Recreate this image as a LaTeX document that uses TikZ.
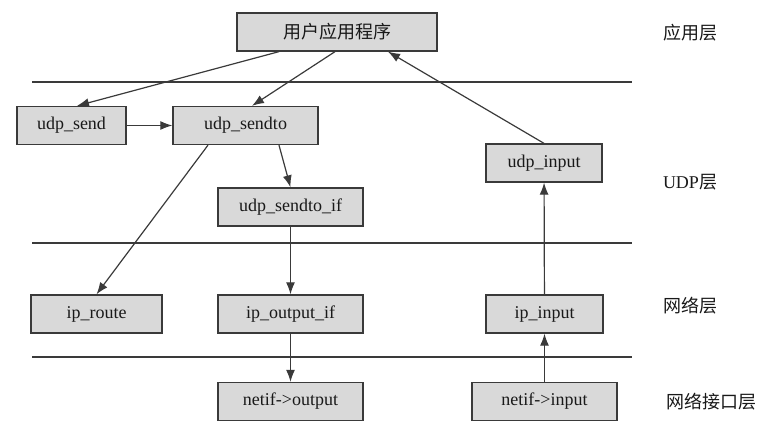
\documentclass[tikz,border=0pt]{standalone}
\usepackage{fontspec}
\setmainfont{Liberation Serif}
\newfontfamily\cjk{Noto Sans CJK SC}
\usetikzlibrary{arrows.meta}
\definecolor{boxfill}{HTML}{D9D9D9}
\definecolor{inkgray}{HTML}{3A3A3A}
\tikzset{
  BoxStyle/.style = {rectangle, draw=inkgray, fill=boxfill, line width=1.3pt,
                     minimum height=38pt, inner sep=0pt, text=black!90,
                     font = \fontsize{18}{20}\selectfont\rmfamily},
  LayerStyle/.style = {text=black!90, font = \fontsize{18}{20}\selectfont\cjk},
  LineStyle/.style = {inkgray, line width=1.1pt},
  ArrowStyle/.style = {inkgray, line width=1.2pt, -{Latex[length=12pt,width=9pt]}} }

\begin{document}
\begin{tikzpicture}[x=1pt,y=-1pt]
  \useasboundingbox (0,0) rectangle (763,428);
  % layer separators
  \draw[LineStyle] (32,82) -- (632,82);
  \draw[LineStyle] (32,243) -- (632,243);
  \draw[LineStyle] (32,357) -- (632,357);
  % boxes
  \node[BoxStyle, minimum width=200pt] (app) at (337,32) {\cjk 用户应用程序};
  \node[BoxStyle, minimum width=109pt] (send) at (71.5,125.5) {udp\_send};
  \node[BoxStyle, minimum width=145pt] (sendto) at (245.5,125.5) {udp\_sendto};
  \node[BoxStyle, minimum width=145pt] (sendtoif) at (290.5,207) {udp\_sendto\_if};
  \node[BoxStyle, minimum width=116pt] (udpin) at (544,163) {udp\_input};
  \node[BoxStyle, minimum width=131pt] (route) at (96.5,314) {ip\_route};
  \node[BoxStyle, minimum width=145pt] (ipout) at (290.5,314) {ip\_output\_if};
  \node[BoxStyle, minimum width=117pt] (ipin) at (544.5,314) {ip\_input};
  \node[BoxStyle, minimum width=145pt] (netout) at (290.5,401.5) {netif->output};
  \node[BoxStyle, minimum width=145pt] (netin) at (544.5,401.5) {netif->input};
  % layer names
  \node[LayerStyle] (lapp) at (690,33) {应用层};
  \node[LayerStyle] (ludp) at (690,182) {{\rmfamily UDP}层};
  \node[LayerStyle] (lip) at (690,306) {网络层};
  \node[LayerStyle] (lnet) at (711,402) {网络接口层};
  % calls
  \draw[ArrowStyle] ([xshift=-58pt]app.south) -- ([xshift=5.5pt]send.north);
  \draw[ArrowStyle] ([xshift=-2pt]app.south) -- ([xshift=6.5pt]sendto.north);
  \draw[ArrowStyle] (udpin.north) -- ([xshift=51pt]app.south);
  \draw[ArrowStyle] (send) -- (sendto);
  \draw[ArrowStyle] ([xshift=-37.5pt]sendto.south) -- (route.north);
  \draw[ArrowStyle] ([xshift=33.5pt]sendto.south) -- (sendtoif.north);
  \draw[ArrowStyle] (sendtoif) -- (ipout);
  \draw[ArrowStyle] (ipout) -- (netout);
  \draw[ArrowStyle] (ipin) -- (udpin);
  \draw[ArrowStyle] (netin) -- (ipin);
\end{tikzpicture}
\end{document}
